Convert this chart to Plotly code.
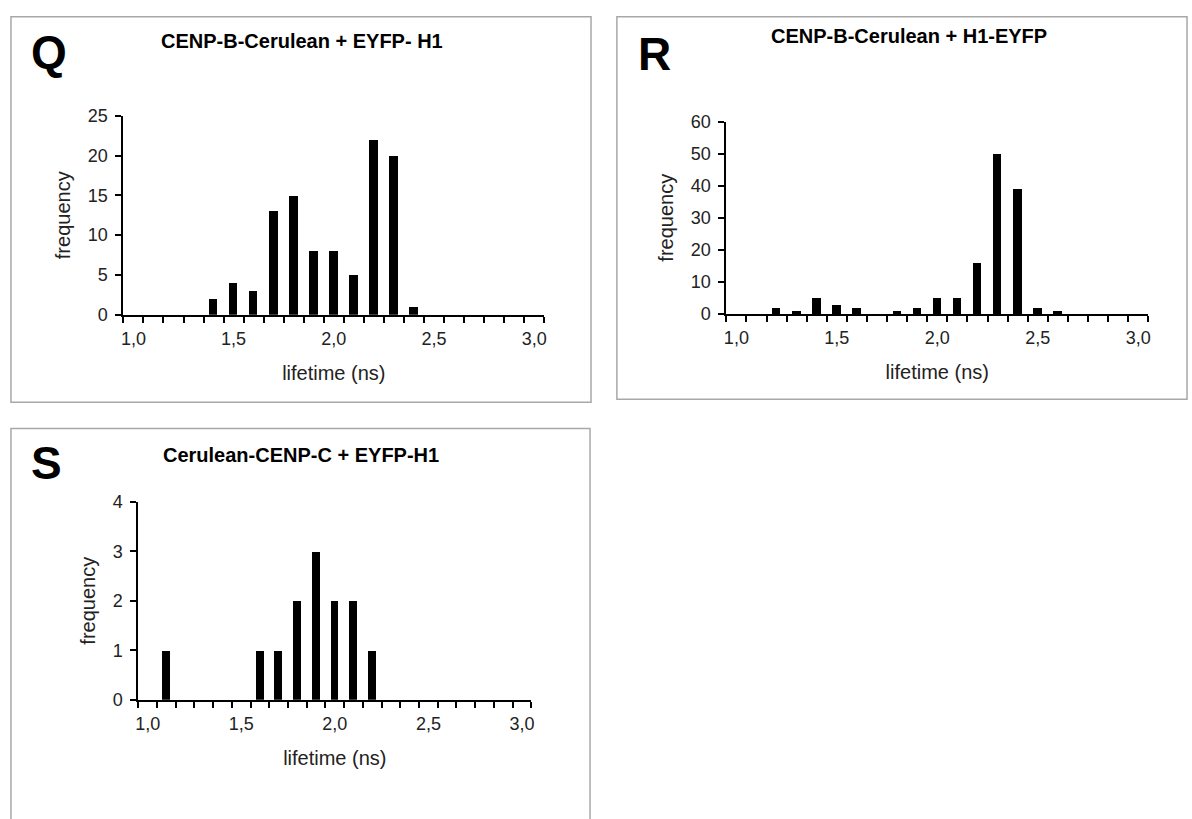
import plotly.graph_objects as go

# ---------------- data ----------------
categories = [round(1.0 + 0.1 * i, 1) for i in range(21)]  # 1.0 ... 3.0 (bins)

q_freq = [0, 0, 0, 0, 2, 4, 3, 13, 15, 8, 8, 5, 22, 20, 1, 0, 0, 0, 0, 0, 0]
r_freq = [0, 0, 2, 1, 5, 3, 2, 0, 1, 2, 5, 5, 16, 50, 39, 2, 1, 0, 0, 0, 0]
s_freq = [0, 1, 0, 0, 0, 0, 1, 1, 2, 3, 2, 2, 1, 0, 0, 0, 0, 0, 0, 0, 0]

x_tickvals = [1.0, 1.5, 2.0, 2.5, 3.0]
x_ticktext = ["1,0", "1,5", "2,0", "2,5", "3,0"]
q_yticks = [0, 5, 10, 15, 20, 25]
r_yticks = [0, 10, 20, 30, 40, 50, 60]
s_yticks = [0, 1, 2, 3, 4]

titles = ["CENP-B-Cerulean + EYFP- H1", "CENP-B-Cerulean + H1-EYFP", "Cerulean-CENP-C + EYFP-H1"]
letters = ["Q", "R", "S"]
x_title = "lifetime (ns)"
y_title = "frequency"

# ---------------- layout helpers ----------------
W, H = 1192, 819
def px(x):
    return x / W
def py(y):
    return 1 - y / H

# panel geometry in pixels
panels = [
    dict(x0=121, x1=544, yb=312.3, yt=108.5, ymax=25, yt_vals=q_yticks, data=q_freq,
         box=(8, 7, 591, 402), title=(301, 32), letter=(46, 43)),
    dict(x0=727, x1=1151, yb=311.5, yt=114.3, ymax=60, yt_vals=r_yticks, data=r_freq,
         box=(617, 7, 1190, 399), title=(911, 27), letter=(655, 45)),
    dict(x0=136, x1=531, yb=707, yt=504, ymax=4, yt_vals=s_yticks, data=s_freq,
         box=(8, 429, 590, 840), title=(300, 456), letter=(44, 464)),
]

fig = go.Figure()
font_fam = "Liberation Sans, Arial, sans-serif"
tick_color = "#222222"
boundaries = [round(0.95 + 0.1 * i, 2) for i in range(22)]

shapes = []
annotations = []
for i, p in enumerate(panels):
    xa = "x" if i == 0 else f"x{i+1}"
    ya = "y" if i == 0 else f"y{i+1}"
    fig.add_trace(go.Bar(x=categories, y=p["data"], width=0.042,
                         marker=dict(color="black", line=dict(width=0)),
                         xaxis=xa, yaxis=ya, showlegend=False))
    xkey = "xaxis" if i == 0 else f"xaxis{i+1}"
    ykey = "yaxis" if i == 0 else f"yaxis{i+1}"
    fig.update_layout(**{
        xkey: dict(domain=[px(p["x0"]), px(p["x1"])], range=[0.95, 3.05], anchor=ya,
                   tickmode="array", tickvals=x_tickvals, ticktext=x_ticktext,
                   ticks="outside", ticklen=0, showline=True, linecolor="black", linewidth=2,
                   showgrid=False, zeroline=False, fixedrange=True,
                   tickfont=dict(family=font_fam, size=18, color=tick_color),
                   ticklabelstandoff=7,
                   minor=dict(tickmode="array", tickvals=boundaries, ticks="outside", ticklen=6,
                              tickwidth=2, tickcolor="black", showgrid=False),
                   title=dict(text=x_title, font=dict(family=font_fam, size=20, color=tick_color),
                              standoff=18)),
        ykey: dict(domain=[py(p["yb"]), py(p["yt"])], range=[0, p["ymax"]], anchor=xa,
                   tickmode="array", tickvals=p["yt_vals"],
                   ticks="outside", ticklen=6, tickwidth=2, tickcolor="black",
                   showline=True, linecolor="black", linewidth=2,
                   showgrid=False, zeroline=False, fixedrange=True,
                   tickfont=dict(family=font_fam, size=18, color=tick_color),
                   ticklabelstandoff=4,
                   title=dict(text=y_title, font=dict(family=font_fam, size=20, color=tick_color),
                              standoff=12)),
    })
    bx0, by0, bx1, by1 = p["box"]
    shapes.append(dict(type="rect", xref="paper", yref="paper",
                       x0=px(bx0), x1=px(bx1), y0=py(by1), y1=py(by0),
                       line=dict(color="#a8a8a8", width=1.5), layer="below"))
    tx, ty = p["title"]
    annotations.append(dict(text=f"<b>{titles[i]}</b>", x=px(tx), y=py(ty), xref="paper", yref="paper",
                            showarrow=False, xanchor="center", yanchor="middle",
                            font=dict(family=font_fam, size=20, color="black")))
    lx, ly = p["letter"]
    annotations.append(dict(text=f"<b>{letters[i]}</b>", x=px(lx), y=py(ly), xref="paper", yref="paper",
                            showarrow=False, xanchor="center", yanchor="middle",
                            font=dict(family=font_fam, size=46, color="black")))

fig.update_layout(width=W, height=H, margin=dict(l=0, r=0, t=0, b=0),
                  paper_bgcolor="white", plot_bgcolor="white",
                  shapes=shapes, annotations=annotations, bargap=0)

fig.write_html("out.html")
